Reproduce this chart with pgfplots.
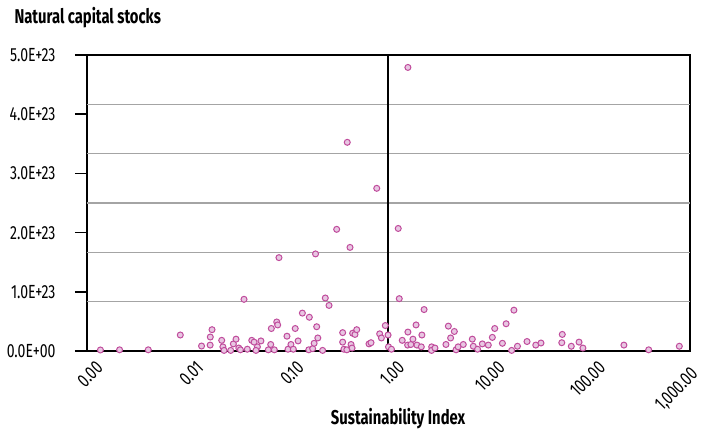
\documentclass[border=0pt]{standalone}
\usepackage{fontspec}
\setmainfont{Fira Sans}[FakeStretch=0.74]
\usepackage{pgfplots}
\pgfplotsset{compat=1.18}
\definecolor{mkfill}{HTML}{E8C6E2}
\definecolor{mkedge}{HTML}{C04C9C}
\definecolor{gridc}{HTML}{A4A4A4}
\begin{document}
\begin{tikzpicture}
\useasboundingbox (-87pt,-79pt) rectangle (619pt,351pt);
\begin{axis}[
  scale only axis, width=603pt, height=296pt,
  xmode=log, xmin=0.001, xmax=1000,
  ymin=0, ymax=5e23,
  scaled y ticks=false,
  axis line style={black, line width=2pt},
  xtick={0.001,0.01,0.1,1,10,100,1000},
  xticklabels={0.00,0.01,0.10,1.00,10.00,100.00,{1,000.00\rule{10pt}{0pt}}},
  x tick style={draw=none},
  xminorticks=false,
  ytick={0,1e23,2e23,3e23,4e23,5e23},
  yticklabels={0.0E+00,1.0E+23,2.0E+23,3.0E+23,4.0E+23,5.0E+23},
  y tick style={draw=black, line width=1.6pt},
  tick align=outside, major tick length=12pt,
  ytick pos=left, xtick pos=bottom,
  tick label style={font=\fontsize{19}{21}\selectfont},
  xticklabel style={rotate=45, anchor=east, xshift=11pt, yshift=-10pt},
  yticklabel style={anchor=east, xshift=-16pt},
  xlabel={\textbf{Sustainability Index}},
  xlabel style={font=\fontsize{20}{22}\selectfont, at={(axis description cs:0.516,0)}, anchor=north, yshift=-54pt},
  clip=false,
]
\addplot[gridc, line width=1.3pt, forget plot] coordinates {(0.001,0.83333e23) (1000,0.83333e23)};
\addplot[gridc, line width=1.3pt, forget plot] coordinates {(0.001,1.66667e23) (1000,1.66667e23)};
\addplot[gridc, line width=1.3pt, forget plot] coordinates {(0.001,2.5e23) (1000,2.5e23)};
\addplot[gridc, line width=1.3pt, forget plot] coordinates {(0.001,3.33333e23) (1000,3.33333e23)};
\addplot[gridc, line width=1.3pt, forget plot] coordinates {(0.001,4.16667e23) (1000,4.16667e23)};
\addplot[black, line width=2pt, forget plot] coordinates {(1,0) (1,5e23)};
\addplot[only marks, mark=*, mark size=3pt, mark options={fill=mkfill, draw=mkedge, line width=1pt}] coordinates {
(1.56,4.79e23) (0.389,3.525e23) (0.764,2.748e23) (1.25,2.07e23) (0.305,2.055e23)
(0.414,1.75e23) (0.188,1.64e23) (0.0813,1.577e23) (0.0365,0.873e23) (0.235,0.895e23)
(1.28,0.884e23) (0.256,0.77e23) (0.139,0.64e23) (0.163,0.57e23) (2.26,0.70e23)
(0.00136,0.017e23) (0.00211,0.02e23) (0.00407,0.02e23) (0.00848,0.27e23) (0.0138,0.084e23)
(0.01686,0.236e23) (0.01754,0.36e23) (0.0168,0.10e23) (0.0219,0.18e23) (0.0225,0.07e23)
(0.0231,0.01e23) (0.0269,0.01e23) (0.0286,0.12e23) (0.0304,0.20e23) (0.0324,0.05e23)
(0.0336,0.02e23) (0.0394,0.03e23) (0.0436,0.18e23) (0.046,0.15e23) (0.0496,0.07e23)
(0.0538,0.17e23) (0.048,0.01e23) (0.0637,0.02e23) (0.0673,0.11e23) (0.0731,0.02e23)
(0.0683,0.38e23) (0.0773,0.49e23) (0.079,0.44e23) (0.0977,0.25e23) (0.10,0.03e23)
(0.107,0.11e23) (0.113,0.03e23) (0.118,0.38e23) (0.126,0.17e23) (0.161,0.02e23)
(0.176,0.04e23) (0.182,0.13e23) (0.193,0.41e23) (0.198,0.22e23) (0.221,0.01e23)
(0.35,0.31e23) (0.35,0.15e23) (0.36,0.03e23) (0.385,0.02e23) (0.424,0.11e23)
(0.434,0.05e23) (0.44,0.30e23) (0.464,0.28e23) (0.483,0.36e23) (0.64,0.12e23)
(0.67,0.14e23) (0.817,0.29e23) (0.85,0.22e23) (0.93,0.43e23) (0.99,0.27e23)
(1.0,0.07e23) (1.07,0.03e23)
(1.37,0.18e23) (1.56,0.32e23) (1.55,0.10e23) (1.67,0.11e23) (1.75,0.20e23)
(1.88,0.44e23) (1.92,0.10e23) (2.12,0.07e23) (2.15,0.27e23) (2.69,0.07e23)
(2.68,0.01e23) (2.90,0.05e23) (3.73,0.11e23) (3.94,0.42e23) (4.15,0.22e23)
(4.52,0.33e23) (4.7,0.02e23) (4.93,0.07e23) (5.55,0.11e23) (6.82,0.20e23)
(6.98,0.08e23) (7.7,0.03e23) (8.58,0.12e23) (9.84,0.10e23) (10.8,0.23e23)
(11.4,0.38e23) (13.6,0.13e23) (14.8,0.46e23) (16.8,0.01e23) (17.7,0.69e23)
(19.2,0.08e23) (23.9,0.16e23) (29.2,0.10e23) (32.9,0.135e23)
(53.6,0.28e23) (53,0.14e23) (65.9,0.08e23) (78.7,0.15e23) (86,0.05e23)
(220,0.10e23) (388,0.02e23) (783,0.08e23)
};
\end{axis}
\foreach \yy in {0,1,2,3,4,5} {\draw[black, line width=1.6pt] (0pt,\yy*59.2pt) -- (-12pt,\yy*59.2pt);}
\node[anchor=west, font=\fontsize{20}{22}\selectfont\bfseries] at (-76pt,333pt) {Natural capital stocks};
\end{tikzpicture}
\end{document}
